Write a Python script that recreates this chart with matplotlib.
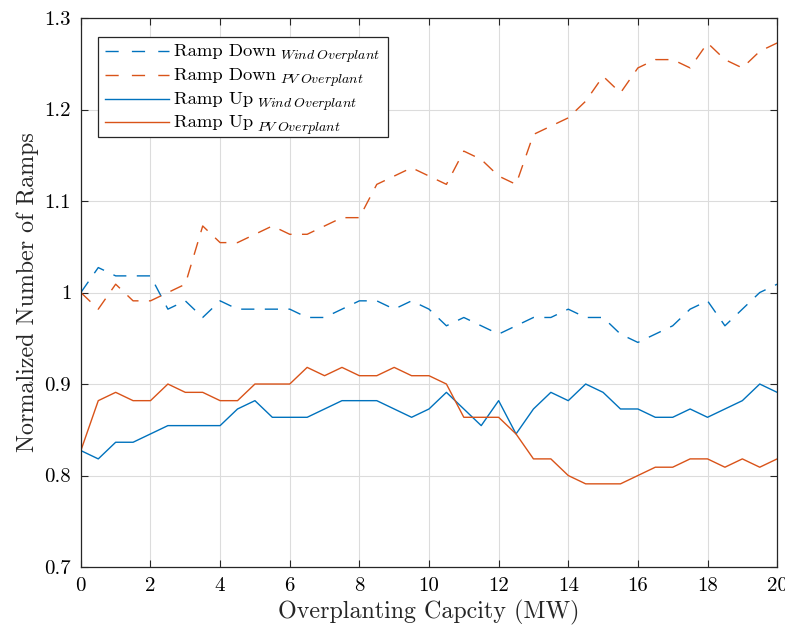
import numpy as np
import matplotlib
matplotlib.use("Agg")
import matplotlib.pyplot as plt
from matplotlib.lines import Line2D
from matplotlib.patches import Rectangle

# Overplanting capacity steps (MW)
capacity = np.arange(0, 20.01, 0.5)

# Ramp counts relative to the base case (base = 110 events)
base_count = 110
ramp_down_wind = [110, 113, 112, 112, 112, 108, 109, 107, 109, 108, 108,
                  108, 108, 107, 107, 108, 109, 109, 108, 109, 108,
                  106, 107, 106, 105, 106, 107, 107, 108, 107, 107,
                  105, 104, 105, 106, 108, 109, 106, 108, 110, 111]
ramp_down_pv = [110, 108, 111, 109, 109, 110, 111, 118, 116, 116, 117,
                118, 117, 117, 118, 119, 119, 123, 124, 125, 124,
                123, 127, 126, 124, 123, 129, 130, 131, 133, 136,
                134, 137, 138, 138, 137, 140, 138, 137, 139, 140]
ramp_up_wind = [91, 90, 92, 92, 93, 94, 94, 94, 94, 96, 97,
                95, 95, 95, 96, 97, 97, 97, 96, 95, 96,
                98, 96, 94, 97, 93, 96, 98, 97, 99, 98,
                96, 96, 95, 95, 96, 95, 96, 97, 99, 98]
ramp_up_pv = [91, 97, 98, 97, 97, 99, 98, 98, 97, 97, 99,
              99, 99, 101, 100, 101, 100, 100, 101, 100, 100,
              99, 95, 95, 95, 93, 90, 90, 88, 87, 87,
              87, 88, 89, 89, 90, 90, 89, 90, 89, 90]

# Legend: main label and its subscript
label_main = ["Ramp Down", "Ramp Down", "Ramp Up", "Ramp Up"]
label_sub = [r"$Wind\;Overplant$", r"$PV\;Overplant$",
             r"$Wind\;Overplant$", r"$PV\;Overplant$"]

xticks = list(range(0, 21, 2))
yticks = [0.7, 0.8, 0.9, 1.0, 1.1, 1.2, 1.3]
ytick_labels = ["0.7", "0.8", "0.9", "1", "1.1", "1.2", "1.3"]

blue = "#0072BD"
orange = "#D95319"
dark = "#262626"

plt.rcParams["font.family"] = "serif"
plt.rcParams["font.serif"] = ["cmr10", "DejaVu Serif"]
plt.rcParams["mathtext.fontset"] = "cm"
plt.rcParams["axes.formatter.use_mathtext"] = True

W, H = 785, 632
fig = plt.figure(figsize=(W / 100, H / 100), dpi=100)
ax = fig.add_axes([0.103, 0.1028, 0.887, 0.8687])

def norm(v):
    return np.array(v) / base_count

lw = 1.0
dash = (9.5, 7.5)
series = [(ramp_down_wind, blue, dash), (ramp_down_pv, orange, dash),
          (ramp_up_wind, blue, None), (ramp_up_pv, orange, None)]
for vals, col, ds in series:
    if ds is None:
        ax.plot(capacity, norm(vals), color=col, lw=lw)
    else:
        ax.plot(capacity, norm(vals), color=col, lw=lw, dashes=ds)

ax.set_xlim(0, 20)
ax.set_ylim(0.7, 1.3)
ax.set_xticks(xticks)
ax.set_xticklabels([str(t) for t in xticks])
ax.set_yticks(yticks)
ax.set_yticklabels(ytick_labels)

ax.grid(True, color="#dcdcdc", lw=0.8)
ax.set_axisbelow(True)
ax.tick_params(direction="in", top=True, right=True, labelsize=15, length=5,
               width=0.8, color=dark, pad=7)
for s in ax.spines.values():
    s.set_color(dark)
    s.set_linewidth(0.9)

ax.set_xlabel("Overplanting Capcity (MW)", fontsize=17.3, color=dark)
ax.set_ylabel("Normalized Number of Ramps", fontsize=17.3, color=dark)

# ---- legend box drawn in figure pixel positions (origin top-left) ----
def fx(px):
    return px / W

def fy(py):
    return 1 - py / H

main_fs = 13.4
sub_fs = 10.0
renderer = fig.canvas.get_renderer()

def text_width(s, fs):
    t = fig.text(0, 0, s, fontsize=fs)
    w = t.get_window_extent(renderer).width
    t.remove()
    return w

box_l, box_r, box_t, box_b = 98, 388, 37, 136.5
fig.add_artist(Rectangle((fx(box_l), fy(box_b)), fx(box_r) - fx(box_l),
                         fy(box_t) - fy(box_b), transform=fig.transFigure,
                         facecolor="white", edgecolor=dark, lw=0.9, zorder=5))

row_base = [56.2, 79.9, 103.6, 127.3]
handle_x0, handle_x1, text_x = 104.5, 168.5, 174
for (vals, col, ds), base_y, main, sub in zip(series, row_base, label_main, label_sub):
    hy = base_y - 5
    ln = Line2D([fx(handle_x0), fx(handle_x1)], [fy(hy), fy(hy)],
                transform=fig.transFigure, color=col, lw=lw, zorder=6)
    if ds is not None:
        ln.set_dashes((9.5, 9.5))
    fig.add_artist(ln)
    fig.text(fx(text_x), fy(base_y), main, fontsize=main_fs, color="black",
             ha="left", va="baseline", zorder=7)
    sx = text_x + text_width(main, main_fs) + 4
    fig.text(fx(sx), fy(base_y + 3.2), sub, fontsize=sub_fs, color="black",
             ha="left", va="baseline", zorder=7)

fig.savefig("out.png", dpi=100)
